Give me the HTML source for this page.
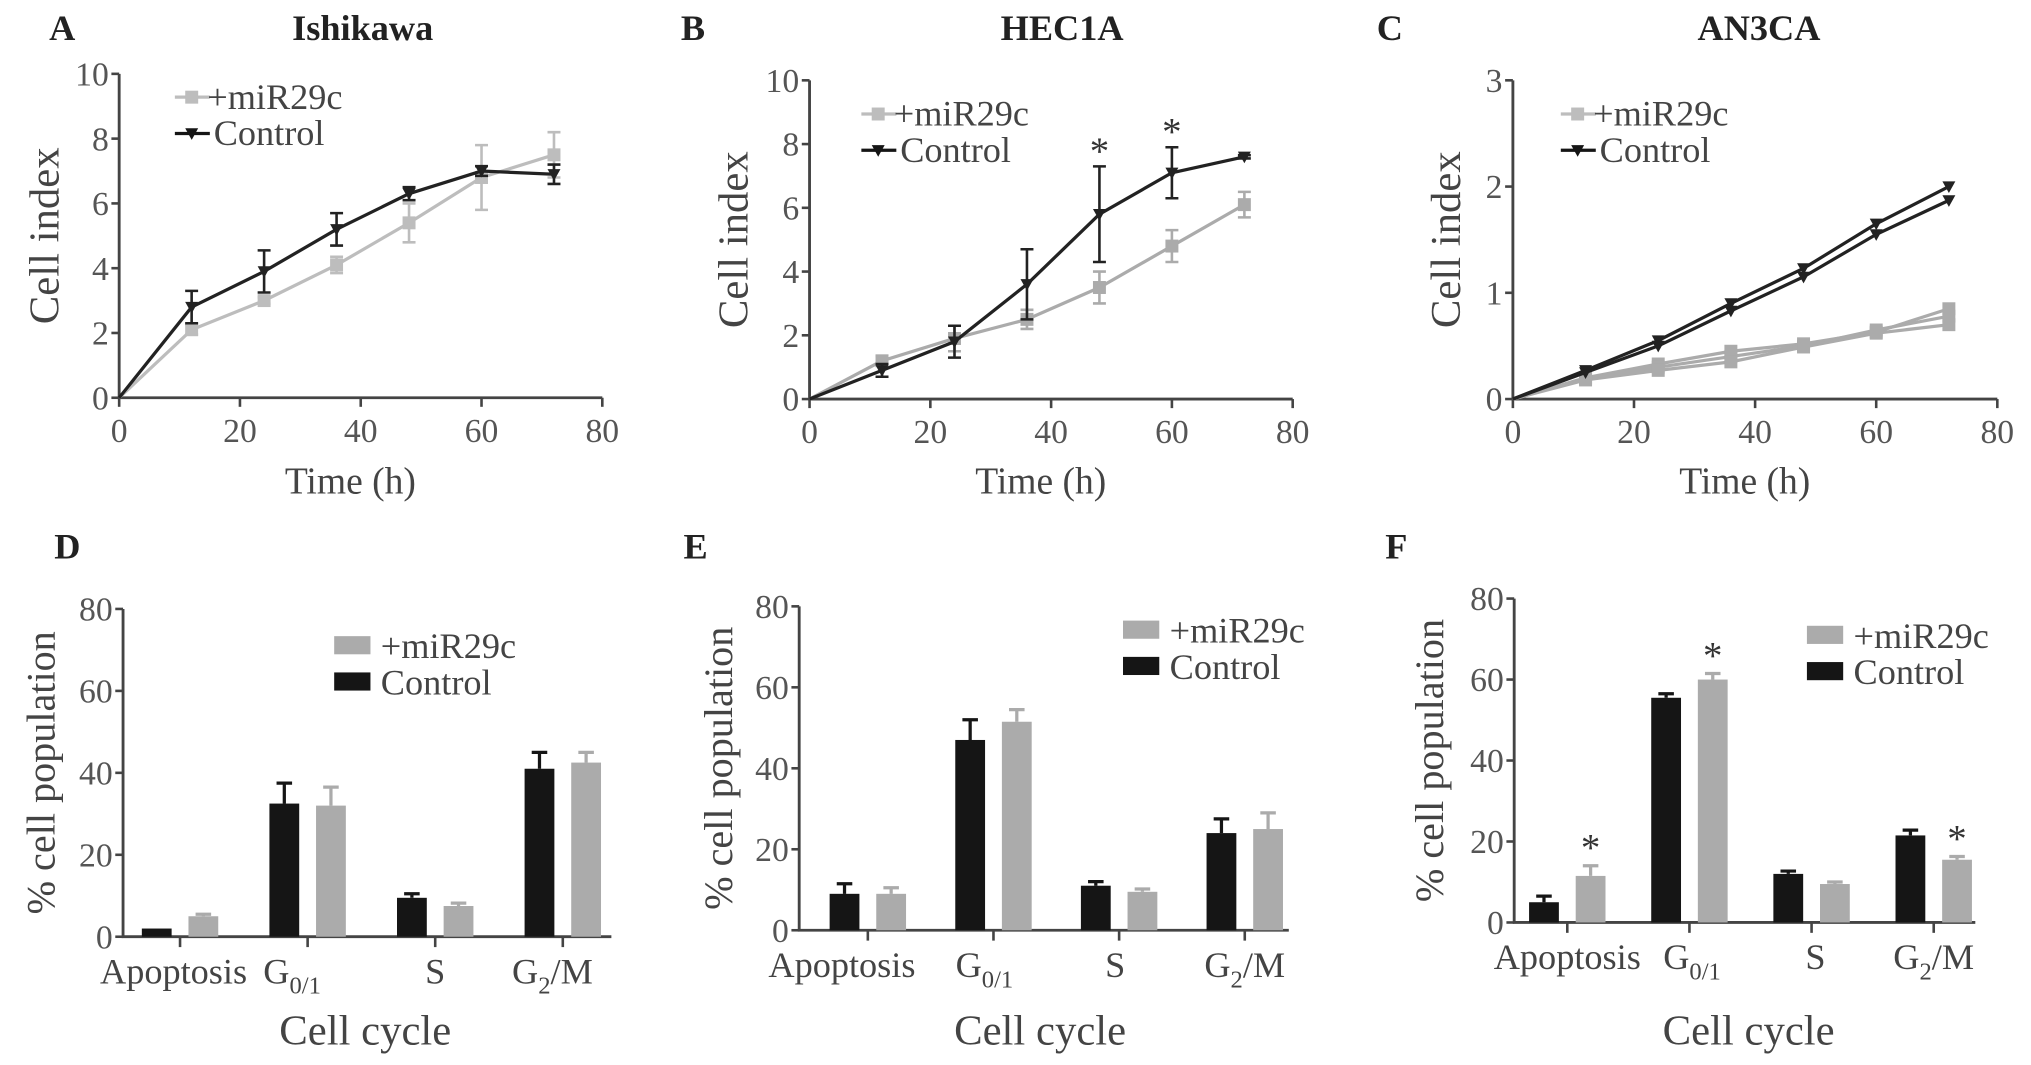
<!DOCTYPE html>
<html><head><meta charset="utf-8"><style>
html,body{margin:0;padding:0;background:#fff;}
svg{display:block;font-family:"Liberation Serif","DejaVu Serif",serif;}
svg text{font-family:"Liberation Serif","DejaVu Serif",serif;}
</style></head><body>
<svg id="fig" width="2031" height="1065" viewBox="0 0 1568 822" preserveAspectRatio="none" font-family="Liberation Serif, DejaVu Serif, serif" xmlns="http://www.w3.org/2000/svg"></svg>
<script>
// ---- Data: line charts ----
const timeHours = [0, 12, 24, 36, 48, 60, 72];
const aMir = [0, 2.1, 3.0, 4.1, 5.4, 6.8, 7.5];
const aMirErr = [0, 0.15, 0.1, 0.25, 0.6, 1.0, 0.7];
const aCtrl = [0, 2.8, 3.9, 5.2, 6.3, 7.0, 6.9];
const aCtrlErr = [0, 0.5, 0.65, 0.5, 0.2, 0.15, 0.3];
const bMir = [0, 1.2, 1.9, 2.5, 3.5, 4.8, 6.1];
const bMirErr = [0, 0.15, 0.4, 0.3, 0.5, 0.5, 0.4];
const bCtrl = [0, 0.9, 1.8, 3.6, 5.8, 7.1, 7.6];
const bCtrlErr = [0, 0.2, 0.5, 1.1, 1.5, 0.8, 0.05];
const bStars = [48, 60];
const cCtrl1 = [0, 0.27, 0.55, 0.9, 1.23, 1.65, 2.0];
const cCtrl2 = [0, 0.25, 0.5, 0.83, 1.15, 1.55, 1.87];
const cMir1 = [0, 0.2, 0.33, 0.45, 0.52, 0.63, 0.85];
const cMir2 = [0, 0.19, 0.3, 0.4, 0.5, 0.65, 0.78];
const cMir3 = [0, 0.18, 0.27, 0.35, 0.49, 0.62, 0.7];
const xTicks = [0, 20, 40, 60, 80];
const yTicksAB = [0, 2, 4, 6, 8, 10];
const yTicksC = [0, 1, 2, 3];
// ---- Data: bar charts ----
const categories = ["Apoptosis", "G0/1", "S", "G2/M"];
const dCtrl = [2, 32.5, 9.5, 41];
const dCtrlErr = [0, 5, 1, 4];
const dMir = [5, 32, 7.5, 42.5];
const dMirErr = [0.5, 4.5, 0.7, 2.5];
const eCtrl = [9, 47, 11, 24];
const eCtrlErr = [2.5, 5, 1, 3.5];
const eMir = [9, 51.5, 9.5, 25];
const eMirErr = [1.5, 3, 0.7, 4];
const fCtrl = [5, 55.5, 12, 21.5];
const fCtrlErr = [1.5, 1, 0.7, 1.3];
const fMir = [11.5, 60, 9.5, 15.5];
const fMirErr = [2.5, 1.5, 0.5, 0.8];
const fStars = [true, true, false, true];
const yTicksBar = [0, 20, 40, 60, 80];

const NS = "http://www.w3.org/2000/svg";
const svg = document.getElementById("fig");
const FONT = '"Liberation Serif","DejaVu Serif",serif';
function el(tag, attrs, parent, txt) {
  const e = document.createElementNS(NS, tag);
  for (const k in attrs) e.setAttribute(k, attrs[k]);
  if (txt !== undefined) e.textContent = txt;
  (parent || svg).appendChild(e);
  return e;
}
function txt(x, y, s, size, opts, parent, name) {
  const t = el("text", Object.assign({x: x, y: y, "font-size": size, fill: "#333", "text-anchor": "middle"}, opts || {}), parent, s);
  t.style.fontFamily = FONT;
  
  
  return t;
}
const GRAY = "#ababab", LGRAY = "#bdbdbd", BLACK = "#151515", AX = "#444";

function lineChart(cfg) {
  const g = el("g", {});
  
  
  const sx = v => cfg.x0 + (v - 0) / 80 * (cfg.x1 - cfg.x0);
  const sy = v => cfg.y0 - v / cfg.ymax * (cfg.y0 - cfg.y1);
  const ax = el("path", {d: `M${cfg.x0},${cfg.y1} V${cfg.y0} H${cfg.x1}`, stroke: AX, "stroke-width": 2.2, fill: "none"}, g);
  
  
  cfg.yTicks.forEach(v => {
    el("line", {x1: cfg.x0 - 6, x2: cfg.x0, y1: sy(v), y2: sy(v), stroke: AX, "stroke-width": 2}, g);
    txt(cfg.x0 - 8, sy(v) + 9, String(v), 26, {"text-anchor": "end", fill: "#555"}, g, 'y-tick-label');
  });
  xTicks.forEach(v => {
    el("line", {x1: sx(v), x2: sx(v), y1: cfg.y0, y2: cfg.y0 + 7, stroke: AX, "stroke-width": 2}, g);
    txt(sx(v), cfg.y0 + 34, String(v), 26, {fill: "#555"}, g, 'x-tick-label');
  });
  cfg.series.forEach(s => {
    const pts = timeHours.map((t, i) => [sx(t), sy(s.vals[i])]);
    const p = el("polyline", {points: pts.map(p => p.join(",")).join(" "), stroke: s.color, "stroke-width": 2.5, fill: "none"}, g);
    
    
    if (s.err) s.err.forEach((e, i) => {
      if (!e) return;
      const x = sx(timeHours[i]), ya = sy(s.vals[i] + e), yb = sy(s.vals[i] - e);
      const eb = el("path", {d: `M${x},${ya} V${yb} M${x-5},${ya} H${x+5} M${x-5},${yb} H${x+5}`, stroke: s.color, "stroke-width": 2, fill: "none"}, g);
      
      
    });
    pts.forEach(([x, y], i) => {
      if (i === 0) return;
      let m;
      if (s.marker === "sq") m = el("rect", {x: x - 5, y: y - 5, width: 10, height: 10, fill: s.color}, g);
      else m = el("path", {d: `M${x-5},${y-4} H${x+5} L${x},${y+5} Z`, fill: s.color}, g);
      
      
    });
  });
  (cfg.stars || []).forEach(t => {
    const i = timeHours.indexOf(t);
    const s = cfg.series[1];
    txt(sx(t), sy(s.vals[i] + s.err[i]) - 2, "*", 30, {fill: "#333"}, g, 'significance-star');
  });
  const L = cfg.legend;
  const l1 = el("line", {x1: L.x, x2: L.x + 27, y1: L.y, y2: L.y, stroke: LGRAY, "stroke-width": 2.5}, g);
   
  el("rect", {x: L.x + 8, y: L.y - 5, width: 10, height: 10, fill: LGRAY}, g);
  txt(L.x + 25, L.y + 9, "+miR29c", 28, {"text-anchor": "start", fill: "#444"}, g, 'legend-mir');
  const l2 = el("line", {x1: L.x, x2: L.x + 27, y1: L.y + 28, y2: L.y + 28, stroke: BLACK, "stroke-width": 2.5}, g);
   
  el("path", {d: `M${L.x+8},${L.y+24} H${L.x+18} L${L.x+13},${L.y+33} Z`, fill: BLACK}, g);
  txt(L.x + 30, L.y + 37, "Control", 28, {"text-anchor": "start", fill: "#444"}, g, 'legend-control');
  txt(cfg.x0 + (cfg.x1 - cfg.x0) / 2 - 8, 381, "Time (h)", 29, {fill: "#444"}, g, 'x-axis-title');
  txt(0, 0, "Cell index", 33, {fill: "#444", transform: `translate(${cfg.ylx},${(cfg.y0 + cfg.y1) / 2}) rotate(-90)`}, g, 'y-axis-title');
  txt(cfg.tx, 31, cfg.title, 28, {"font-weight": "bold", fill: "#222"}, g, 'chart-title');
  txt(cfg.lx, 31, cfg.letter, 28, {"font-weight": "bold", fill: "#222"}, g, 'panel-letter');
}

lineChart({name: "panel-a-ishikawa", x0: 92, x1: 465, y0: 307, y1: 57, ymax: 10, yTicks: yTicksAB, ylx: 45, tx: 280, title: "Ishikawa", lx: 48, letter: "A",
  legend: {x: 135, y: 75},
  series: [{name: "mir29c", vals: aMir, err: aMirErr, color: LGRAY, marker: "sq"}, {name: "control", vals: aCtrl, err: aCtrlErr, color: "#222", marker: "tri"}]});
lineChart({name: "panel-b-hec1a", x0: 625, x1: 998, y0: 308, y1: 62, ymax: 10, yTicks: yTicksAB, ylx: 577, tx: 820, title: "HEC1A", lx: 535, letter: "B",
  legend: {x: 665, y: 88}, stars: bStars,
  series: [{name: "mir29c", vals: bMir, err: bMirErr, color: GRAY, marker: "sq"}, {name: "control", vals: bCtrl, err: bCtrlErr, color: "#222", marker: "tri"}]});
lineChart({name: "panel-c-an3ca", x0: 1168, x1: 1542, y0: 308, y1: 62, ymax: 3, yTicks: yTicksC, ylx: 1127, tx: 1358, title: "AN3CA", lx: 1073, letter: "C",
  legend: {x: 1205, y: 88},
  series: [{name: "mir29c-1", vals: cMir1, color: GRAY, marker: "sq"}, {name: "mir29c-2", vals: cMir2, color: GRAY, marker: "sq"}, {name: "mir29c-3", vals: cMir3, color: GRAY, marker: "sq"},
           {name: "control-1", vals: cCtrl1, color: "#222", marker: "tri"}, {name: "control-2", vals: cCtrl2, color: "#222", marker: "tri"}]});

function barChart(cfg) {
  const g = el("g", {});
  
  
  const sy = v => cfg.y0 - v / 80 * (cfg.y0 - cfg.y1);
  const ax = el("path", {d: `M${cfg.x0},${cfg.y1} V${cfg.y0} H${cfg.xe}`, stroke: AX, "stroke-width": 2.2, fill: "none"}, g);
   
  yTicksBar.forEach(v => {
    el("line", {x1: cfg.x0 - 6, x2: cfg.x0, y1: sy(v), y2: sy(v), stroke: AX, "stroke-width": 2}, g);
    txt(cfg.x0 - 8, sy(v) + 9, String(v), 26, {"text-anchor": "end", fill: "#555"}, g, 'y-tick-label');
  });
  const bw = 23;
  categories.forEach((c, i) => {
    const cx = cfg.cx0 + i * cfg.step;
    el("line", {x1: cx, x2: cx, y1: cfg.y0, y2: cfg.y0 + 8, stroke: AX, "stroke-width": 2}, g);
    [[cfg.ctrl, cfg.ctrlErr, BLACK, -18, "control"], [cfg.mir, cfg.mirErr, GRAY, 18, "mir29c"]].forEach(([vals, errs, col, off, nm]) => {
      const x = cx + off, top = sy(vals[i]);
      if (errs[i]) {
        const et = sy(vals[i] + errs[i]);
        const eb = el("path", {d: `M${x},${top} V${et} M${x-6},${et} H${x+6}`, stroke: col, "stroke-width": 2.5, fill: "none"}, g);
         
      }
      const r = el("rect", {x: x - bw / 2, y: top, width: bw, height: cfg.y0 - top, fill: col}, g);
       
      if (nm === "mir29c" && cfg.stars && cfg.stars[i]) txt(x, sy(vals[i] + errs[i]) - 4, "*", 30, {fill: "#333"}, g, 'significance-star');
    });
    const ly = cfg.y0 + 36, lx = cx + cfg.labOff[i];
    let t;
    if (c === "G0/1") {
      t = txt(lx, ly, "", 28, {fill: "#444"}, g, 'category-label');
      el("tspan", {}, t, "G"); el("tspan", {"font-size": 19, dy: 8}, t, "0/1");
    } else if (c === "G2/M") {
      t = txt(lx, ly, "", 28, {fill: "#444"}, g, 'category-label');
      el("tspan", {}, t, "G"); el("tspan", {"font-size": 19, dy: 8}, t, "2"); el("tspan", {dy: -8}, t, "/M");
    } else t = txt(lx, ly, c, 28, {fill: "#444"}, g, 'category-label');
  });
  const L = cfg.legend;
  const s1 = el("rect", {x: L.x, y: L.y - 7, width: 28, height: 14, fill: GRAY}, g);
   
  txt(L.x + 36, L.y + 10, "+miR29c", 28, {"text-anchor": "start", fill: "#444"}, g, 'legend-mir');
  const s2 = el("rect", {x: L.x, y: L.y + 21, width: 28, height: 14, fill: BLACK}, g);
   
  txt(L.x + 36, L.y + 38, "Control", 28, {"text-anchor": "start", fill: "#444"}, g, 'legend-control');
  txt(cfg.xtx, 806, "Cell cycle", 33, {fill: "#444"}, g, 'x-axis-title');
  txt(0, 0, "% cell population", 31, {fill: "#444", transform: `translate(${cfg.ylx},${(cfg.y0 + cfg.y1) / 2}) rotate(-90)`}, g, 'y-axis-title');
  txt(cfg.lx, 431, cfg.letter, 28, {"font-weight": "bold", fill: "#222"}, g, 'panel-letter');
}

barChart({name: "panel-d-ishikawa-cycle", x0: 95, xe: 472, y0: 723, y1: 470, cx0: 139, step: 98.5, labOff: [-5, -12, 0, -8], ylx: 42, xtx: 282, lx: 52, letter: "D",
  legend: {x: 258, y: 498}, ctrl: dCtrl, ctrlErr: dCtrlErr, mir: dMir, mirErr: dMirErr});
barChart({name: "panel-e-hec1a-cycle", x0: 617, xe: 995, y0: 718, y1: 468, cx0: 670, step: 97, labOff: [-20, -7, -3, 0], ylx: 565, xtx: 803, lx: 537, letter: "E",
  legend: {x: 867, y: 486}, ctrl: eCtrl, ctrlErr: eCtrlErr, mir: eMir, mirErr: eMirErr});
barChart({name: "panel-f-an3ca-cycle", x0: 1169, xe: 1525, y0: 712, y1: 462, cx0: 1210, step: 94.3, labOff: [0, 2, 3, 0], ylx: 1114, xtx: 1350, lx: 1078, letter: "F",
  legend: {x: 1395, y: 490}, stars: fStars, ctrl: fCtrl, ctrlErr: fCtrlErr, mir: fMir, mirErr: fMirErr});
</script>
</body></html>
